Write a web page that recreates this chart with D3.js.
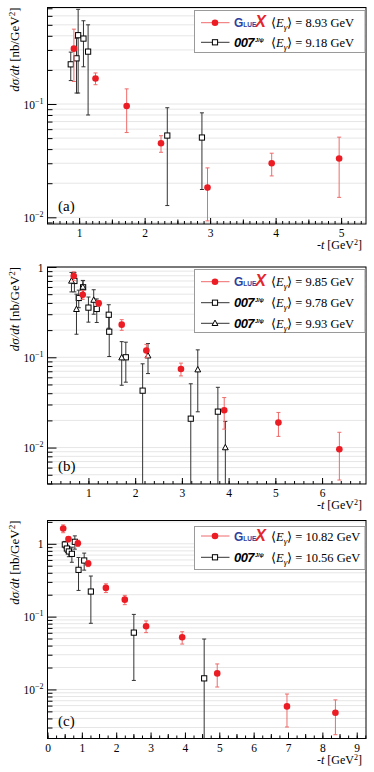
<!DOCTYPE html>
<html>
<head>
<meta charset="utf-8">
<script src="https://cdn.jsdelivr.net/npm/d3@7"></script>
<style>
  body { margin: 0; background: #fff; }
  svg { display: block; }
</style>
</head>
<body>
<div id="chart"></div>
<script>

// Points are [ -t (GeV^2), dsigma/dt (nb/GeV^2), error ].

// (a) GlueX 8.93 GeV vs 007 9.18 GeV.
const gluexA = [
  [0.92, 0.308, 0.15], [1.25, 0.168, 0.02], [1.726, 0.096, 0.04],
  [2.25, 0.045, 0.0075], [2.96, 0.0183, 0.009], [3.94, 0.030, 0.0068],
  [4.97, 0.033, 0.018]
]
const j007A = [
  [0.872, 0.224, 0.063], [0.96, 0.253, 0.128], [0.985, 0.405, 0.28],
  [1.066, 0.378, 0.165], [1.137, 0.290, 0.21], [2.346, 0.0527, 0.04],
  [2.875, 0.0506, 0.033]
]

// (b) GlueX 9.85 GeV vs 007 9.78 / 9.93 GeV.
const gluexB = [
  [0.686, 0.795, 0.09], [0.878, 0.493, 0.055], [1.22, 0.396, 0.03],
  [1.712, 0.23, 0.031], [2.24, 0.119, 0.02], [2.98, 0.0742, 0.012],
  [3.906, 0.0259, 0.0099], [5.066, 0.0189, 0.0056], [6.37, 0.00957, 0.0052]
]
const j007Bsq = [
  [0.70, 0.70, 0.17], [0.793, 0.454, 0.1], [0.886, 0.596, 0.11],
  [1.0, 0.355, 0.11], [1.178, 0.343, 0.1], [1.435, 0.296, 0.086],
  [1.445, 0.192, 0.09], [1.80, 0.10, 0.047], [2.16, 0.0427, 0.042],
  [3.19, 0.0209, 0.03], [3.77, 0.025, 0.0215]
]
const j007Btri = [
  [0.637, 0.70, 0.17], [0.744, 0.34, 0.16], [0.88, 0.60, 0.11],
  [1.113, 0.43, 0.13], [1.712, 0.099, 0.05], [2.275, 0.104, 0.038],
  [3.34, 0.0729, 0.048], [3.93, 0.010, 0.0095]
]

// (c) GlueX 10.82 GeV vs 007 10.56 GeV.
const gluexC = [
  [0.457, 1.62, 0.2], [0.611, 1.16, 0.1], [0.884, 1.02, 0.1],
  [1.184, 0.536, 0.05], [1.70, 0.248, 0.034], [2.25, 0.171, 0.025],
  [2.87, 0.0738, 0.0135], [3.92, 0.052, 0.01], [4.94, 0.0166, 0.0058],
  [6.97, 0.00585, 0.0028], [8.38, 0.00479, 0.0024]
]
const j007C = [
  [0.505, 0.978, 0.1], [0.564, 0.861, 0.1], [0.622, 0.785, 0.12],
  [0.709, 0.728, 0.17], [0.796, 1.065, 0.22], [0.903, 0.439, 0.21],
  [1.068, 0.59, 0.155], [1.262, 0.221, 0.14], [2.513, 0.0603, 0.047],
  [4.56, 0.0142, 0.035]
]

// Legend beam energies (GeV).
const energiesA = ['8.93', '9.18']
const energiesB = ['9.85', '9.78', '9.93']
const energiesC = ['10.82', '10.56']

// Tick labels.
const xLabelsA = [1, 2, 3, 4, 5]
const xLabelsB = [1, 2, 3, 4, 5, 6]
const xLabelsC = [0, 1, 2, 3, 4, 5, 6, 7, 8, 9]

const SERIF = '"Liberation Serif", serif'
const SANS = '"Liberation Sans", sans-serif'
const RED = '#ec1c24'
const RED_ERR = '#f06a6a'
const DARK = '#333'
const left = 47.5, right = 366

const panels = [
  { tag: '(a)', top: 7.5, bottom: 224, xDom: [0.517, 5.38], yDom: [0.00873, 0.711],
    xMinor: 0.1, xMid: 0.5, xLabels: xLabelsA,
    legend: { top: 10.5, bottom: 52.5, rows: [22.7, 42.3] },
    series: [
      { kind: 'jpsi', marker: 'square', pts: j007A, E: energiesA[1] },
      { kind: 'gluex', pts: gluexA, E: energiesA[0] }
    ] },
  { tag: '(b)', top: 267, bottom: 484, xDom: [0.124, 6.94], yDom: [0.00395, 1],
    xMinor: 0.2, xMid: null, xLabels: xLabelsB,
    legend: { top: 269.5, bottom: 332.5, rows: [281.7, 302.7, 323.3] },
    series: [
      { kind: 'jpsi', marker: 'square', pts: j007Bsq, E: energiesB[1] },
      { kind: 'jpsi', marker: 'triangle', pts: j007Btri, E: energiesB[2] },
      { kind: 'gluex', pts: gluexB, E: energiesB[0] }
    ] },
  { tag: '(c)', top: 520.5, bottom: 738.5, xDom: [0, 9.27], yDom: [0.00212, 2.09],
    xMinor: 0.25, xMid: 0.5, xLabels: xLabelsC,
    legend: { top: 526.5, bottom: 569.5, rows: [536, 557.3] },
    series: [
      { kind: 'jpsi', marker: 'square', pts: j007C, E: energiesC[1] },
      { kind: 'gluex', pts: gluexC, E: energiesC[0] }
    ] }
]

const svg = d3.select('#chart').append('svg')
  .attr('width', 374)
  .attr('height', 772)
  .style('font-family', SERIF)

panels.forEach(function(p, i) { drawPanel(p, i) })

function logTicks(dom) {
  const out = []
  const lo = Math.floor(Math.log10(dom[0])), hi = Math.ceil(Math.log10(dom[1]))
  for (let e = lo; e <= hi; e++) {
    for (let k = 1; k <= 9; k++) {
      const v = +(k * Math.pow(10, e)).toPrecision(6)
      if (v >= dom[0] && v <= dom[1] * 1.0001) out.push(v)
    }
  }
  return out
}

function stepTicks(dom, step) {
  return d3.range(Math.ceil(dom[0] / step - 1e-6), Math.floor(dom[1] / step + 1e-6) + 1)
    .map(function(k) { return +(k * step).toFixed(4) })
}

function drawMarker(sel, marker, color) {
  if (marker === 'circle') {
    sel.append('circle').attr('r', 3.3).attr('fill', color)
  } else if (marker === 'square') {
    sel.append('rect').attr('x', -2.6).attr('y', -2.6).attr('width', 5.2).attr('height', 5.2)
      .attr('fill', '#fff').attr('stroke', '#000').attr('stroke-width', 1)
  } else {
    sel.append('path').attr('d', 'M0,-3.2L2.9,2.2L-2.9,2.2Z')
      .attr('fill', '#fff').attr('stroke', '#000').attr('stroke-width', 1)
  }
}

function drawPanel(p, i) {
  const x = d3.scaleLinear().domain(p.xDom).range([left, right])
  const y = d3.scaleLog().domain(p.yDom).range([p.bottom, p.top])
  const g = svg.append('g')

  // Horizontal grid at every log tick.
  const yAll = logTicks(p.yDom)
  g.append('g').selectAll('line')
    .data(yAll)
    .enter()
    .append('line')
      .attr('x1', left).attr('x2', right)
      .attr('y1', function(d) { return y(d) }).attr('y2', function(d) { return y(d) })
      .attr('stroke', '#e6e6e6')

  // Y axis (ticks point inwards).
  const yMajor = yAll.filter(function(v) { return Math.abs(Math.log10(v) - Math.round(Math.log10(v))) < 1e-6 })
  const yMinor = yAll.filter(function(v) { return yMajor.indexOf(v) < 0 })

  g.append('g')
    .attr('transform', 'translate(' + left + ',0)')
    .call(d3.axisLeft(y).tickValues(yMinor).tickSize(-5).tickFormat(''))
    .call(function(a) { a.select('.domain').remove() })

  const yAx = g.append('g')
    .attr('transform', 'translate(' + left + ',0)')
    .call(d3.axisLeft(y).tickValues(yMajor).tickSize(-9).tickPadding(4).tickFormat(''))
    .attr('font-size', 11.5)
    .style('font-family', SERIF)
  yAx.select('.domain').remove()
  yAx.selectAll('.tick text').each(function(d) {
    const t = d3.select(this).attr('dy', '0.35em')
    const e = Math.round(Math.log10(d))
    if (e === 0) {
      t.text('1')
    } else {
      t.append('tspan').text('10')
      t.append('tspan').attr('dy', -5).attr('font-size', 8).text('\u2212' + Math.abs(e))
    }
  })

  // X axis: minor, medium and labelled ticks.
  const xMinor = stepTicks(p.xDom, p.xMinor)
  const xMid = p.xMid ? stepTicks(p.xDom, p.xMid).filter(function(v) { return v % 1 !== 0 }) : []
  g.append('g')
    .attr('transform', 'translate(0,' + p.bottom + ')')
    .call(d3.axisBottom(x).tickValues(xMinor).tickSize(-3).tickFormat(''))
    .call(function(a) { a.select('.domain').remove() })
  g.append('g')
    .attr('transform', 'translate(0,' + p.bottom + ')')
    .call(d3.axisBottom(x).tickValues(xMid).tickSize(-4.5).tickFormat(''))
    .call(function(a) { a.select('.domain').remove() })
  g.append('g')
    .attr('transform', 'translate(0,' + p.bottom + ')')
    .call(d3.axisBottom(x).tickValues(p.xLabels).tickSize(-6).tickPadding(5).tickFormat(d3.format('d')))
    .attr('font-size', 11.5)
    .style('font-family', SERIF)
    .call(function(a) { a.select('.domain').remove() })

  // Frame.
  g.append('rect')
    .attr('x', left).attr('y', p.top)
    .attr('width', right - left).attr('height', p.bottom - p.top)
    .attr('fill', 'none').attr('stroke', '#000').attr('stroke-width', 1)

  // Clip for data.
  svg.append('clipPath').attr('id', 'clip' + i)
    .append('rect')
      .attr('x', left).attr('y', p.top)
      .attr('width', right - left).attr('height', p.bottom - p.top)

  const data = g.append('g').attr('clip-path', 'url(#clip' + i + ')')

  p.series.forEach(function(s) {
    const col = s.kind === 'gluex' ? RED_ERR : DARK
    const marker = s.kind === 'gluex' ? 'circle' : s.marker
    const lo = function(d) { return y(Math.max(d[1] - d[2], p.yDom[0] * 0.5)) }
    const hi = function(d) { return y(d[1] + d[2]) }

    const eb = data.append('g').selectAll('g')
      .data(s.pts)
      .enter()
      .append('g')
        .attr('stroke', col).attr('stroke-width', 1)
    eb.append('line')
      .attr('x1', function(d) { return x(d[0]) }).attr('x2', function(d) { return x(d[0]) })
      .attr('y1', lo).attr('y2', hi)
    eb.append('line')
      .attr('x1', function(d) { return x(d[0]) - 2 }).attr('x2', function(d) { return x(d[0]) + 2 })
      .attr('y1', hi).attr('y2', hi)
    eb.filter(function(d) { return d[1] - d[2] > p.yDom[0] })
      .append('line')
      .attr('x1', function(d) { return x(d[0]) - 2 }).attr('x2', function(d) { return x(d[0]) + 2 })
      .attr('y1', lo).attr('y2', lo)

    const mk = data.append('g').selectAll('g')
      .data(s.pts)
      .enter()
      .append('g')
        .attr('transform', function(d) { return 'translate(' + x(d[0]) + ',' + y(d[1]) + ')' })
    drawMarker(mk, marker, RED)
  })

  // Panel tag.
  g.append('text')
    .attr('x', 58).attr('y', p.bottom - 13)
    .attr('font-size', 15)
    .text(p.tag)

  // X title.
  const xt = g.append('text')
    .attr('x', 362).attr('y', p.bottom + 25)
    .attr('text-anchor', 'end')
    .attr('font-size', 12)
  xt.append('tspan').text('-')
  xt.append('tspan').attr('font-style', 'italic').text('t')
  xt.append('tspan').text(' [GeV')
  xt.append('tspan').attr('dy', -4).attr('font-size', 8).text('2')
  xt.append('tspan').attr('dy', 4).text(']')

  // Y title.
  const yt = g.append('text')
    .attr('transform', 'translate(19,' + p.top + ') rotate(-90)')
    .attr('text-anchor', 'end')
    .attr('font-size', 13)
  yt.append('tspan').attr('font-style', 'italic').text('d\u03c3/dt')
  yt.append('tspan').text(' [nb/GeV')
  yt.append('tspan').attr('dy', -4).attr('font-size', 9).text('2')
  yt.append('tspan').attr('dy', 4).text(']')

  drawLegend(g, p)
}

function drawLegend(g, p) {
  const L = p.legend
  g.append('rect')
    .attr('x', 194.5).attr('y', L.top)
    .attr('width', 365 - 194.5).attr('height', L.bottom - L.top)
    .attr('fill', '#fff').attr('stroke', '#9a9a9a').attr('stroke-width', 1)

  // GlueX entry first, then 007 entries in order.
  const order = p.series.filter(function(s) { return s.kind === 'gluex' })
    .concat(p.series.filter(function(s) { return s.kind !== 'gluex' }))

  order.forEach(function(s, k) {
    const yy = L.rows[k]
    const col = s.kind === 'gluex' ? RED_ERR : DARK
    g.append('line')
      .attr('x1', 201).attr('x2', 229.5).attr('y1', yy).attr('y2', yy)
      .attr('stroke', col).attr('stroke-width', 1)
    drawMarker(g.append('g').attr('transform', 'translate(215,' + yy + ')'),
      s.kind === 'gluex' ? 'circle' : s.marker, RED)

    const logo = g.append('text').attr('x', 234).attr('y', yy + 4.5)
      .style('font-family', SANS).attr('font-weight', 'bold')
    if (s.kind === 'gluex') {
      logo.append('tspan').attr('font-size', 12).attr('fill', '#2e3f9e').text('G')
      logo.append('tspan').attr('font-size', 6.5).attr('fill', '#2e3f9e').text('LUE')
      logo.append('tspan').attr('font-size', 16).attr('font-style', 'italic').attr('fill', '#e3262c').attr('dx', -1).text('X')
    } else {
      logo.attr('font-style', 'italic')
      logo.append('tspan').attr('font-size', 13).attr('letter-spacing', -0.6).text('007')
      logo.append('tspan').attr('font-size', 5.5).attr('dy', -5).attr('dx', 1).text('J/\u03c8')
    }

    const t = g.append('text').attr('x', 271).attr('y', yy + 4.5).attr('font-size', 12.5)
    t.append('tspan').text('\u27e8')
    t.append('tspan').attr('font-style', 'italic').text('E')
    t.append('tspan').attr('font-style', 'italic').attr('font-size', 9).attr('dy', 3).text('\u03b3')
    t.append('tspan').attr('dy', -3).text('\u27e9 = ' + s.E + ' GeV')
  })
}

</script>
</body>
</html>
